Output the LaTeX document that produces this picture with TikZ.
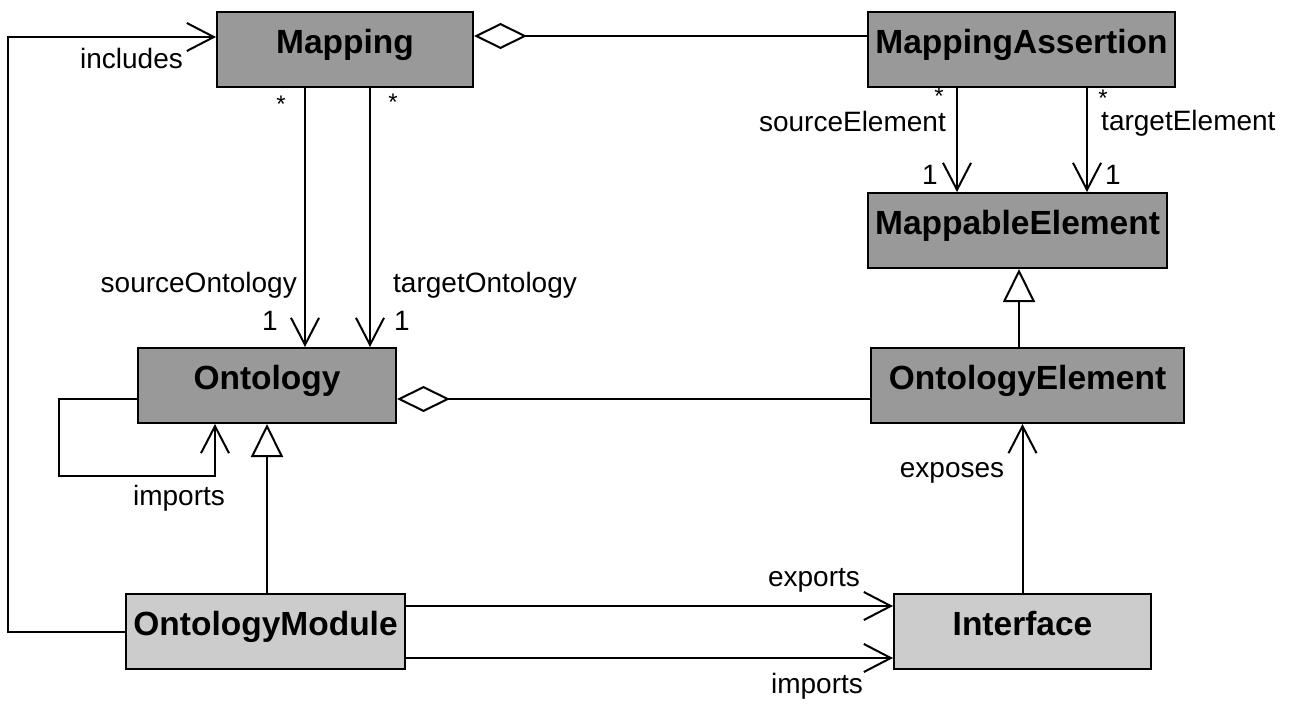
\documentclass[tikz,border=0pt]{standalone}
\usepackage{fontspec}
\setmainfont{Liberation Sans}
\usetikzlibrary{arrows.meta}
\definecolor{darkbox}{HTML}{999999}
\definecolor{lightbox}{HTML}{CCCCCC}
\begin{document}
\begin{tikzpicture}[x=1pt,y=-1pt,
  cls/.style={draw=black, line width=2pt, inner xsep=0pt, inner ysep=0pt,
    text height=41pt, text depth=34pt, font=\fontsize{33.5}{36}\selectfont\bfseries},
  dark/.style={cls, fill=darkbox},
  light/.style={cls, fill=lightbox},
  lbl/.style={inner sep=0pt, font=\fontsize{28}{30}\selectfont},
  star/.style={inner sep=0pt, font=\fontsize{24}{26}\selectfont},
  assoc/.style={line width=2pt, -{Straight Barb[length=27pt,width=28pt]}},
  inherit/.style={line width=2pt, -{Triangle[open,length=33pt,width=32pt]}},
  aggr/.style={line width=2pt, {Diamond[open,length=53pt,width=26pt]}-}
]
\useasboundingbox (0,0) rectangle (1292,704);

% classes
\node[dark, minimum width=256pt] (mapping) at (345,49.5) {Mapping};
\node[dark, minimum width=307pt] (massert) at (1021.5,49.5) {MappingAssertion};
\node[dark, minimum width=299pt] (mappable) at (1017.5,230.5) {MappableElement};
\node[dark, minimum width=313pt] (oelem) at (1027.5,385.5) {OntologyElement};
\node[dark, minimum width=258pt] (onto) at (267,385.5) {Ontology};
\node[light, minimum width=279pt] (omod) at (265.5,631.5) {OntologyModule};
\node[light, minimum width=257pt] (iface) at (1022.5,631.5) {Interface};

% helper coordinates
\coordinate (lft) at (8,0);
\coordinate (incl) at ([yshift=12.5pt]mapping.west);
\coordinate (d1) at ([yshift=13.5pt]mapping.east);
\coordinate (d2) at ([yshift=-13.5pt]onto.east);
\coordinate (s1) at ([xshift=-40pt]mapping.south);
\coordinate (s2) at ([xshift=25pt]mapping.south);
\coordinate (t1) at ([xshift=-64.5pt]massert.south);
\coordinate (t2) at ([xshift=65.5pt]massert.south);
\coordinate (g1) at ([xshift=-8.5pt]oelem.north);
\coordinate (l1) at ([yshift=-13.5pt]onto.west);
\coordinate (l2) at ([xshift=-52pt]onto.south);
\coordinate (e1) at ([yshift=25.5pt]omod.east);
\coordinate (e2) at ([yshift=-26.5pt]omod.east);

% connectors
\draw[assoc] (omod.west) -- (omod.west -| lft) |- (incl);
\draw[aggr] (d1) -- (d1 -| massert.west);
\draw[assoc] (s1) -- (s1 |- onto.north);
\draw[assoc] (s2) -- (s2 |- onto.north);
\draw[assoc] (t1) -- (t1 |- mappable.north);
\draw[assoc] (t2) -- (t2 |- mappable.north);
\draw[inherit] (g1) -- (g1 |- mappable.south);
\draw[aggr] (d2) -- (d2 -| oelem.west);
\draw[assoc] (l1) -- ++(-78,0) -- ++(0,77) -| (l2);
\draw[inherit] (omod.north -| onto.south) -- (onto.south);
\draw[assoc] (e1) -- (e1 -| iface.west);
\draw[assoc] (e2) -- (e2 -| iface.west);
\draw[assoc] (iface.north) -- (iface.north |- oelem.south);

% labels
\node[lbl, anchor=base] (lincl) at (131.5,68) {includes};
\node[star] (st1) at (281,104) {*};
\node[star] (st2) at (393,102) {*};
\node[lbl, anchor=base east] (lso) at (297,292) {sourceOntology};
\node[lbl, anchor=base west] (lto) at (393,292) {targetOntology};
\node[lbl, anchor=base] (one1) at (270,330) {1};
\node[lbl, anchor=base] (one2) at (402,330) {1};
\node[star] (st3) at (939,96) {*};
\node[star] (st4) at (1103,98) {*};
\node[lbl, anchor=base east] (lse) at (946,131) {sourceElement};
\node[lbl, anchor=base west] (lte) at (1101,130) {targetElement};
\node[lbl, anchor=base] (one3) at (930,184) {1};
\node[lbl, anchor=base] (one4) at (1113,184) {1};
\node[lbl, anchor=base] (limp) at (179,505) {imports};
\node[lbl, anchor=base] (lexp) at (952,477) {exposes};
\node[lbl, anchor=base] (lexports) at (814,586) {exports};
\node[lbl, anchor=base] (limp2) at (817,693) {imports};
\end{tikzpicture}
\end{document}
